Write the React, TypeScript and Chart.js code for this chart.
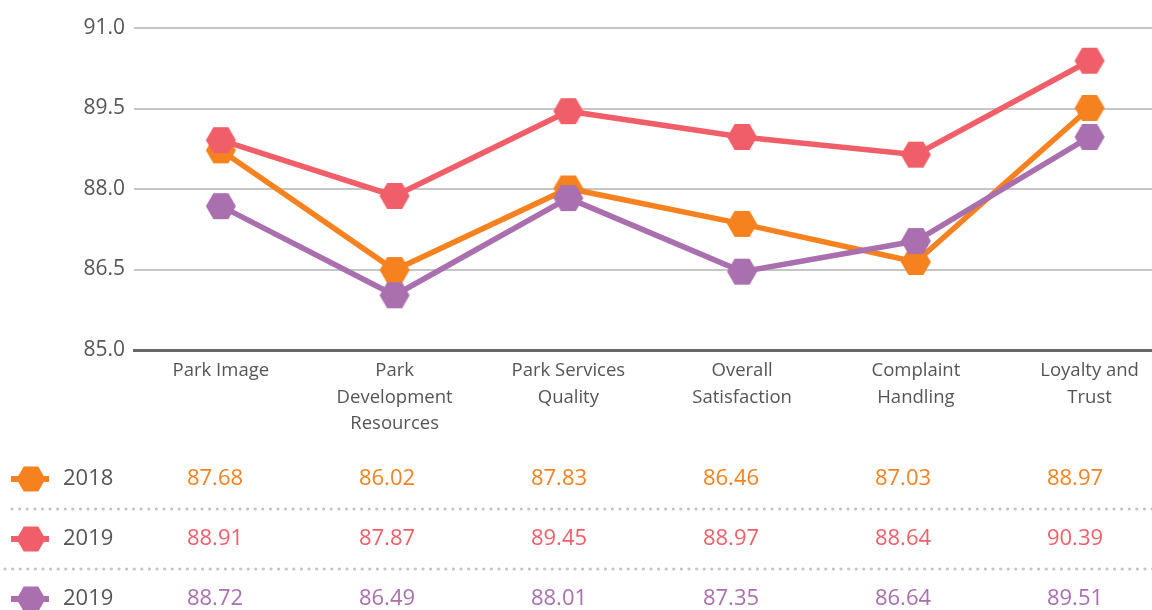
import React, { useEffect, useRef } from 'react';
import { Chart, registerables } from 'chart.js';

Chart.register(...registerables);

// ---- data ----
const categories: string[][] = [
  ['Park Image'],
  ['Park', 'Development', 'Resources'],
  ['Park Services', 'Quality'],
  ['Overall', 'Satisfaction'],
  ['Complaint', 'Handling'],
  ['Loyalty and', 'Trust'],
];
const yMin = 85;
const yMax = 91;
const yStep = 1.5;

const values2018 = [87.68, 86.02, 87.83, 86.46, 87.03, 88.97];
const values2019a = [88.91, 87.87, 89.45, 88.97, 88.64, 90.39];
const values2019b = [88.72, 86.49, 88.01, 87.35, 86.64, 89.51];

const tableLabels = ['2018', '2019', '2019'];

const ORANGE = '#F5821F';
const RED = '#F05F69';
const PURPLE = '#A96FAF';
const TEXT = '#555555';
const FONT = "'Open Sans', 'Noto Sans', sans-serif";

function hexagon(color: string, r: number): HTMLCanvasElement {
  const h = Math.sqrt(3) * r;
  const c = document.createElement('canvas');
  c.width = Math.ceil(2 * r) + 2;
  c.height = Math.ceil(h) + 2;
  const ctx = c.getContext('2d')!;
  const cx = c.width / 2;
  const cy = c.height / 2;
  ctx.beginPath();
  for (let i = 0; i < 6; i++) {
    const a = (Math.PI / 3) * i;
    ctx.lineTo(cx + r * Math.cos(a), cy + r * Math.sin(a));
  }
  ctx.closePath();
  ctx.fillStyle = color;
  ctx.fill();
  return c;
}

function drawHex(ctx: CanvasRenderingContext2D, cx: number, cy: number, r: number, color: string) {
  ctx.beginPath();
  for (let i = 0; i < 6; i++) {
    const a = (Math.PI / 3) * i;
    ctx.lineTo(cx + r * Math.cos(a), cy + r * Math.sin(a));
  }
  ctx.closePath();
  ctx.fillStyle = color;
  ctx.fill();
}

const tablePlugin = {
  id: 'dataTable',
  afterDraw(chart: any) {
    const ctx: CanvasRenderingContext2D = chart.ctx;
    const rows = [
      { label: tableLabels[0], values: values2018, color: ORANGE },
      { label: tableLabels[1], values: values2019a, color: RED },
      { label: tableLabels[2], values: values2019b, color: PURPLE },
    ];
    const rowTop = 479;
    const rowGap = 60;
    const colStart = 215;
    const colW = 172;
    const width = chart.width;
    ctx.save();
    // dotted separators
    const dotStarts = [12, 5];
    ctx.fillStyle = '#c4c4c4';
    for (let s = 0; s < 2; s++) {
      const y = rowTop + rowGap * s + 30;
      for (let x = dotStarts[s]; x < width; x += 7.6) {
        ctx.beginPath();
        ctx.arc(x, y, 1.6, 0, Math.PI * 2);
        ctx.fill();
      }
    }
    rows.forEach((row, r) => {
      const y = rowTop + rowGap * r;
      // legend icon
      ctx.fillStyle = row.color;
      ctx.fillRect(11, y - 3, 38, 6);
      drawHex(ctx, 31, y, 14.5, row.color);
      ctx.font = `22px ${FONT}`;
      ctx.textBaseline = 'middle';
      ctx.textAlign = 'left';
      ctx.fillStyle = TEXT;
      ctx.fillText(row.label, 63, y);
      ctx.textAlign = 'center';
      ctx.fillStyle = row.color;
      row.values.forEach((v, i) => {
        ctx.fillText(v.toFixed(2), colStart + colW * i, y);
      });
    });
    ctx.restore();
  },
};

export default function App() {
  const ref = useRef<HTMLCanvasElement>(null);

  useEffect(() => {
    document.body.style.margin = '0';
    const canvas = ref.current!;
    const chart = new Chart(canvas, {
      type: 'line',
      data: {
        labels: categories,
        datasets: [
          {
            label: '2019',
            data: values2019a,
            borderColor: RED,
            backgroundColor: RED,
            borderWidth: 5.5,
            pointStyle: hexagon(RED, 15),
            order: 0,
          },
          {
            label: '2018',
            data: values2018,
            borderColor: PURPLE,
            backgroundColor: PURPLE,
            borderWidth: 5.5,
            pointStyle: hexagon(PURPLE, 15),
            order: 1,
          },
          {
            label: '2019',
            data: values2019b,
            borderColor: ORANGE,
            backgroundColor: ORANGE,
            borderWidth: 5.5,
            pointStyle: hexagon(ORANGE, 15),
            order: 2,
          },
        ] as any,
      },
      options: {
        responsive: false,
        animation: false,
        devicePixelRatio: 1,
        layout: { padding: { top: 28, left: 0, right: 0, bottom: 0 } },
        plugins: { legend: { display: false }, tooltip: { enabled: false } },
        elements: { line: { tension: 0 } },
        scales: {
          x: {
            offset: true,
            grid: { display: false, drawTicks: false },
            border: { display: true, color: '#666666', width: 3 },
            ticks: {
              color: TEXT,
              font: { family: FONT, size: 18.5, lineHeight: 1.42 },
              padding: 8,
              maxRotation: 0,
              autoSkip: false,
            },
            afterFit: (scale: any) => {
              scale.height = 260;
            },
          },
          y: {
            min: yMin,
            max: yMax,
            grid: {
              color: (c: any) => (c.tick && c.tick.value === yMin ? 'rgba(0,0,0,0)' : '#c6c6c6'),
              lineWidth: 2,
              drawTicks: false,
            },
            border: { display: false },
            ticks: {
              stepSize: yStep,
              color: TEXT,
              font: { family: FONT, size: 21 },
              padding: 9,
              callback: (v: any) => Number(v).toFixed(1),
            },
            afterFit: (scale: any) => {
              scale.width = 134;
            },
          },
        },
      },
      plugins: [tablePlugin],
    });
    return () => chart.destroy();
  }, []);

  return (
    <div style={{ position: 'fixed', left: 0, top: 0, width: 1152, height: 610, overflow: 'hidden', background: '#fff' }}>
      <canvas ref={ref} width={1186} height={610} style={{ width: 1186, height: 610, display: 'block' }} />
    </div>
  );
}
